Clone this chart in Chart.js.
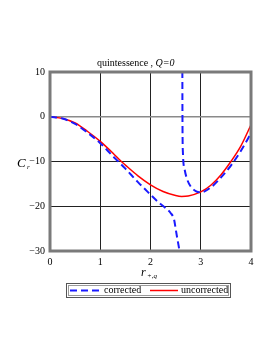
<!DOCTYPE html>
<html>
<head>
<meta charset="utf-8">
<script src="https://cdn.jsdelivr.net/npm/chart.js@4"></script>
<style>
  html, body { margin: 0; padding: 0; background: #fff; }
  canvas { display: block; }
</style>
</head>
<body>
<canvas id="chart" width="273" height="353"></canvas>
<script>
// valeurs
const rCorrected = [0, 0.25, 0.5, 0.75, 1, 1.25, 1.36, 1.5, 1.75, 2, 2.1, 2.2, 2.3, 2.4, 2.47, 2.5, 2.53, 2.57, 2.6, 2.622,
                    null,
                    2.632, 2.636, 2.645, 2.68, 2.73, 2.8, 2.9, 3, 3.2, 3.4, 3.6, 3.8, 4];
const cCorrected = [0, -0.4, -1.6, -3.6, -5.9, -8.8, -10, -11.6, -14.6, -17.4, -18.5, -19.5, -20.4, -21.5, -23, -25, -27, -29.5, -33, -50,
                    null,
                    25, 0, -8, -11.8, -14, -15.6, -16.6, -16.9, -15.8, -13.6, -10.9, -7.6, -3.7];
const rUncorrected = [0, 0.25, 0.5, 0.75, 1, 1.25, 1.42, 1.5, 1.75, 2, 2.25, 2.5, 2.62, 2.75, 3, 3.2, 3.4, 3.6, 3.8, 4];
const cUncorrected = [0, -0.4, -1.4, -3.3, -5.5, -8.1, -10, -10.8, -13.2, -15.2, -16.7, -17.6, -17.8, -17.7, -16.8, -15.3, -13, -10, -6.5, -1.8];
const xTicks = [0, 1, 2, 3, 4];
const yTicks = [-30, -20, -10, 0, 10];

const toPoints = (xs, ys) => xs.map((x, i) => ({ x: x, y: ys[i] }));
const fmt = v => (v < 0 ? '\u2212' + Math.abs(v) : String(v));

const serif = '"Liberation Serif", "DejaVu Serif", serif';

// texte et cadre autour du graphique
const decor = {
    id: 'decor',
    afterDraw(chart) {
        const c = chart.ctx;
        const a = chart.chartArea;
        c.save();
        // cadre
        c.strokeStyle = '#7a7a7a';
        c.lineWidth = 3;
        c.strokeRect(a.left, a.top, a.right - a.left, a.bottom - a.top);

        c.fillStyle = '#000';
        c.textBaseline = 'alphabetic';
        // titre
        c.font = '10px ' + serif;
        c.textAlign = 'left';
        const t1 = 'quintessence , ';
        c.fillText(t1, 97, 66);
        const w1 = c.measureText(t1).width;
        c.font = 'italic 10px ' + serif;
        c.fillText('Q=0', 97 + w1, 66);

        // axe y
        c.font = 'italic 13px ' + serif;
        c.fillText('C', 17, 167);
        c.font = 'italic 7px ' + serif;
        c.fillText('r', 27, 169);

        // axe x
        c.font = 'italic 12px ' + serif;
        c.fillText('r', 141, 276);
        c.font = 'italic 7px ' + serif;
        c.fillText('+,q', 147, 278);

        // legende
        const lx = 66, ly = 283, lw = 164, lh = 14;
        c.strokeStyle = '#555';
        c.lineWidth = 1;
        c.strokeRect(lx + 0.5, ly + 0.5, lw, lh);
        c.strokeStyle = '#9a9a9a';
        c.strokeRect(lx + 2.5, ly + 2.5, lw - 4, lh - 4);
        const my = ly + lh / 2 + 0.5;
        c.strokeStyle = '#1a1aff';
        c.lineWidth = 2;
        c.setLineDash([7, 4]);
        c.beginPath(); c.moveTo(70, my); c.lineTo(100, my); c.stroke();
        c.setLineDash([]);
        c.strokeStyle = '#ff0000';
        c.lineWidth = 1.5;
        c.beginPath(); c.moveTo(150, my); c.lineTo(178, my); c.stroke();
        c.font = '10px ' + serif;
        c.fillStyle = '#000';
        c.textBaseline = 'middle';
        c.fillText('corrected', 104, my);
        c.fillText('uncorrected', 181, my);
        c.restore();
    }
};

const ctx = document.getElementById('chart').getContext('2d');
const chart = new Chart(ctx, {
    type: 'line',
    data: {
        datasets: [{
            label: 'corrected',
            data: toPoints(rCorrected, cCorrected),
            borderColor: '#1a1aff',
            borderWidth: 2,
            borderDash: [7, 4],
            pointRadius: 0,
            fill: false,
            spanGaps: false,
            cubicInterpolationMode: 'monotone'
        }, {
            label: 'uncorrected',
            data: toPoints(rUncorrected, cUncorrected),
            borderColor: '#ff0000',
            borderWidth: 1.5,
            pointRadius: 0,
            fill: false,
            cubicInterpolationMode: 'monotone'
        }]
    },
    options: {
        responsive: false,
        animation: false,
        layout: { padding: { left: 0, right: 22, top: 72, bottom: 82 } },
        plugins: {
            legend: { display: false },
            title: { display: false },
            tooltip: { enabled: false }
        },
        scales: {
            x: {
                type: 'linear',
                min: 0,
                max: 4,
                afterFit: s => { s.height = 20; },
                afterBuildTicks: s => { s.ticks = xTicks.map(v => ({ value: v })); },
                grid: { color: '#222', lineWidth: 1, drawTicks: false },
                border: { display: false },
                ticks: {
                    padding: 5,
                    color: '#000',
                    font: { family: serif, size: 10 },
                    callback: fmt
                }
            },
            y: {
                type: 'linear',
                min: -30,
                max: 10,
                afterFit: s => { s.width = 50; },
                afterBuildTicks: s => { s.ticks = yTicks.map(v => ({ value: v })); },
                grid: {
                    color: c => (c.tick && c.tick.value === 0 ? '#8a8a8a' : '#222'),
                    lineWidth: c => (c.tick && c.tick.value === 0 ? 1.5 : 1),
                    drawTicks: false
                },
                border: { display: false },
                ticks: {
                    padding: 5,
                    color: '#000',
                    font: { family: serif, size: 10 },
                    callback: fmt
                }
            }
        }
    },
    plugins: [decor]
});
</script>
</body>
</html>
